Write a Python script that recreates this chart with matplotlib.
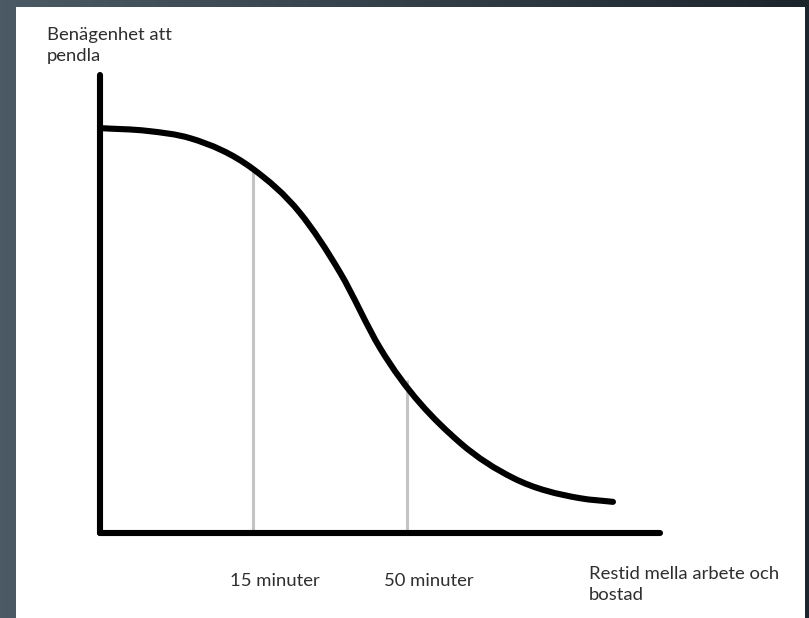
import matplotlib
matplotlib.use("Agg")
import matplotlib.pyplot as plt
import numpy as np
from matplotlib.colors import LinearSegmentedColormap
from matplotlib.patches import Rectangle, PathPatch
from matplotlib.path import Path

# curve, both axes on a 0-100 scale
travel_time = [0, 8.4, 16.1, 27.3, 35.7, 42.9, 50.0, 64.3, 73.8, 85.7, 91.6]
willingness = [88.4, 87.8, 86.2, 79.5, 69.9, 56.8, 40.4, 19.7, 12.0, 7.6, 6.8]

marker_x = [27.3, 54.8]
marker_labels = ["15 minuter", "50 minuter"]

y_label = "Benägenhet att\npendla"
x_label = "Restid mella arbete och\nbostad"

W, H = 809, 618
plt.rcParams['font.family'] = ['Lato', 'DejaVu Sans']
text_color = '#2e2e2e'
fsize = 13.3


def smooth_path(xs, ys):
    # cubic hermite through the read points, drawn as bezier segments
    x = np.asarray(xs, float)
    y = np.asarray(ys, float)
    h = np.diff(x)
    d = np.diff(y) / h
    m = np.empty_like(y)
    m[0], m[-1] = d[0], d[-1]
    m[1:-1] = (h[1:] * d[:-1] + h[:-1] * d[1:]) / (h[:-1] + h[1:])
    verts = [(x[0], y[0])]
    codes = [Path.MOVETO]
    for i in range(len(x) - 1):
        verts += [(x[i] + h[i] / 3, y[i] + m[i] * h[i] / 3),
                  (x[i + 1] - h[i] / 3, y[i + 1] - m[i + 1] * h[i] / 3),
                  (x[i + 1], y[i + 1])]
        codes += [Path.CURVE4] * 3
    return Path(verts, codes)


fig = plt.figure(figsize=(W / 100, H / 100), dpi=100)

# slide background + white picture
bg = fig.add_axes([0, 0, 1, 1])
bg.axis('off')
cmap = LinearSegmentedColormap.from_list('slide', ['#4b5a64', '#1d252c'])
bg.imshow(np.linspace(0, 1, 256)[None, :], aspect='auto', cmap=cmap,
          extent=[0, 1, 0, 1])
bg.add_patch(Rectangle((16 / W, 0), (805 - 16) / W, (H - 7) / H,
                       facecolor='white', edgecolor='none'))
bg.set_xlim(0, 1)
bg.set_ylim(0, 1)

ax = fig.add_axes([100 / W, (H - 533) / H, 560 / W, 458 / H])
ax.set_facecolor('none')
ax.set_xlim(0, 100)
ax.set_ylim(0, 100)
ax.set_xticks([])
ax.set_yticks([])
for side in ['top', 'right']:
    ax.spines[side].set_visible(False)
for side in ['left', 'bottom']:
    ax.spines[side].set_linewidth(4.4)
    ax.spines[side].set_color('black')
    ax.spines[side].set_capstyle('round')

# grey drop lines up to the curve
tops = np.interp(marker_x, travel_time, willingness)
for mx, top, lab in zip(marker_x, tops, marker_labels):
    ax.plot([mx, mx], [0, top], color='#c4c4c4', lw=2.2, zorder=2,
            solid_capstyle='butt')
    ax.annotate(lab, xy=(mx, 0), xycoords=('data', 'axes fraction'),
                xytext=(-16.5, -38), textcoords='offset points',
                ha='left', va='baseline', fontsize=fsize, color=text_color)

curve = PathPatch(smooth_path(travel_time, willingness), facecolor='none',
                  edgecolor='black', lw=4.4, capstyle='round',
                  joinstyle='round', zorder=3, clip_on=False)
ax.add_patch(curve)

fig.text(47 / W, 1 - 27 / H, y_label, ha='left', va='top',
         fontsize=fsize, color=text_color, linespacing=1.35)
fig.text(589 / W, 1 - 566 / H, x_label, ha='left', va='top',
         fontsize=fsize, color=text_color, linespacing=1.35)

fig.savefig('out.png', dpi=100)
